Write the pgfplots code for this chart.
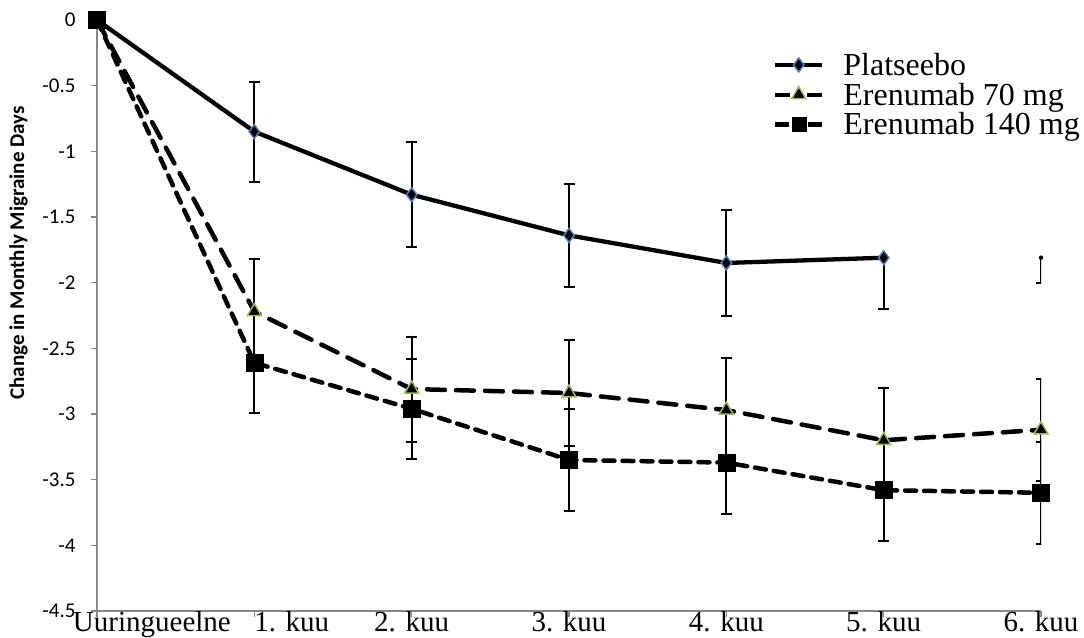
\documentclass[border=0pt]{standalone}
\usepackage{fontspec}
\setmainfont{Liberation Serif}
\newfontfamily\carlito{Carlito}
\usepackage{pgfplots}
\pgfplotsset{compat=1.18}
\definecolor{axgray}{HTML}{868686}
\definecolor{dblue}{HTML}{4F81BD}
\definecolor{dgreen}{HTML}{9BBB59}
\pgfplotsset{
  myerr/.style={error bars/.cd, y dir=both, y explicit,
    error bar style={black, line width=2pt, solid},
    error mark options={rotate=90, mark size=5.5pt, line width=2pt, black, solid}},
}
\begin{document}
\begin{tikzpicture}
\begin{axis}[
 scale only axis, width=944pt, height=591pt,
 xmin=0, xmax=6, ymin=-4.5, ymax=0,
 axis lines*=left, axis line style={axgray, line width=1.5pt, -},
 xtick={0,...,6},
 xticklabels={\makebox[0pt][l]{\hspace*{-24pt}Uuringueelne},\makebox[0pt][l]{1. kuu},2. kuu,3. kuu,4. kuu,5. kuu,6. kuu},
 ytick={-4.5,-4,-3.5,-3,-2.5,-2,-1.5,-1,-0.5,0},
 yticklabels={-4.5,-4,-3.5,-3,-2.5,-2,-1.5,-1,-0.5,0},
 tick align=outside, major tick length=6pt, tick style={axgray, line width=1.2pt},
 xticklabel style={font=\fontsize{29}{29}\selectfont, yshift=9pt},
 yticklabel style={font=\carlito\fontsize{21}{21}\selectfont, xshift=-12pt},
 ylabel={Change in Monthly Migraine Days},
 ylabel style={font=\carlito\bfseries\fontsize{21}{21}\selectfont, at={(axis description cs:-0.083,0.606)}, anchor=center},
 legend style={at={(rel axis cs:0.716,0.946)}, anchor=north west, draw=none, fill=none,
   font=\fontsize{32}{32}\selectfont, row sep=4pt, column sep=18pt, inner sep=0pt, nodes={inner sep=1pt}},
 legend cell align=left,
]
\addplot[black, line width=4.3pt, line cap=round, mark=diamond*, mark size=7pt,
  mark options={fill=black, draw=dblue, line width=1.5pt, solid},
  legend image code/.code={\draw[mark repeat=2,mark phase=2, line width=4.3pt, line cap=butt] plot coordinates {(0pt,0pt) (23.5pt,0pt) (47pt,0pt)};},
  myerr]
  coordinates {(0,0) (1,-0.85) +- (0,0.38) (2,-1.33) +- (0,0.40) (3,-1.64) +- (0,0.39)
   (4,-1.85) +- (0,0.40) (5,-1.81) += (0,0) -= (0,0.39)};
\addlegendentry{Platseebo}
\addplot[black, line width=4.5pt, line cap=round, dash pattern=on 18pt off 11pt, mark=triangle*, mark size=8pt,
  mark options={fill=black, draw=dgreen, line width=1.5pt, solid},
  legend image code/.code={\draw[mark repeat=2,mark phase=2, line width=4.3pt, line cap=butt, dash pattern=on 15pt off 17pt] plot coordinates {(0pt,0pt) (23.5pt,0pt) (47pt,0pt)};},
  myerr]
  coordinates {(0,0) (1,-2.22) +- (0,0.40) (2,-2.81) +- (0,0.40) (3,-2.84) +- (0,0.40)
   (4,-2.97) +- (0,0.40) (5,-3.20) +- (0,0.40) (6,-3.12) +- (0,0.39)};
\addlegendentry{Erenumab 70 mg}
\addplot[black, line width=4.5pt, line cap=round, dash pattern=on 11pt off 8pt, mark=square*, mark size=8.5pt,
  mark options={fill=black, draw=black, line width=0.5pt, solid},
  legend image code/.code={\draw[mark repeat=2,mark phase=2, line width=4.3pt, line cap=butt, dash pattern=on 14pt off 19pt, mark size=7pt] plot coordinates {(0pt,0pt) (23.5pt,0pt) (47pt,0pt)};},
  myerr]
  coordinates {(0,0) (1,-2.61) +- (0,0.38) (2,-2.96) +- (0,0.38) (3,-3.35) +- (0,0.39)
   (4,-3.37) +- (0,0.39) (5,-3.58) +- (0,0.39) (6,-3.60) +- (0,0.39)};
\addlegendentry{Erenumab 140 mg}
\addplot[black, only marks, mark=none, forget plot, error bars/.cd, y dir=minus, y explicit,
    error bar style={black, line width=2pt, solid},
    error mark options={rotate=90, mark size=5.5pt, line width=2pt, black, solid}]
  coordinates {(6,-1.81) -= (0,0.19)};
\coordinate (sw) at (rel axis cs:0,0);
\coordinate (ne) at (rel axis cs:1,1);
\end{axis}
\pgfresetboundingbox
\path ([xshift=-97pt,yshift=-26pt]sw) rectangle ([xshift=43pt,yshift=20pt]ne);
\end{tikzpicture}
\end{document}
